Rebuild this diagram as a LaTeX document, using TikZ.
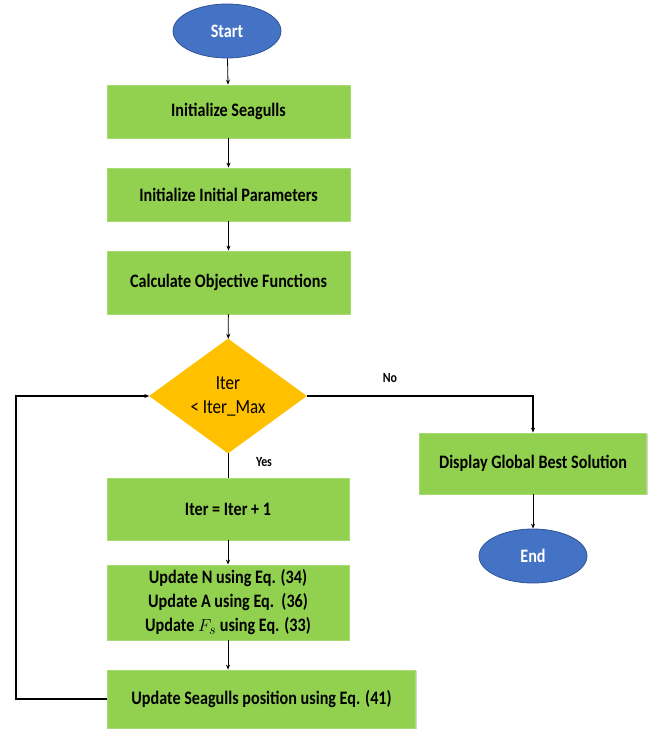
\documentclass[tikz,border=0pt]{standalone}
\usepackage{fontspec}
\setmainfont{Carlito}[FakeStretch=0.85]
\usetikzlibrary{shapes.geometric,arrows.meta,shadows}

\definecolor{boxgreen}{HTML}{92D050}
\definecolor{boxedge}{HTML}{A8DC72}
\definecolor{decgold}{HTML}{FFC000}
\definecolor{termblue}{HTML}{4472C4}
\definecolor{termedge}{HTML}{2F5597}

\tikzset{
  procbox/.style={rectangle, fill=boxgreen, draw=boxedge, line width=0.8pt,
    drop shadow={shadow xshift=1.2pt, shadow yshift=-1.2pt, opacity=0.35},
    inner sep=2pt, align=center, font=\fontsize{19}{24}\selectfont\bfseries},
  terminal/.style={ellipse, fill=termblue, draw=termedge, line width=0.8pt,
    minimum width=108pt, minimum height=54pt, inner sep=0pt,
    text=white, font=\fontsize{19}{22}\selectfont\bfseries},
  decision/.style={diamond, fill=decgold, draw=decgold, inner sep=0pt,
    minimum width=157pt, minimum height=106pt, align=center,
    font=\fontsize{20}{24}\selectfont},
  flowarrow/.style={-{Stealth[length=5pt,width=4pt]}, line width=0.8pt},
  heavyline/.style={line width=1.4pt},
  branchlabel/.style={font=\fontsize{14}{16}\selectfont\bfseries}
}

\begin{document}
\begin{tikzpicture}[x=1pt,y=-1pt]
\useasboundingbox (0,0) rectangle (652,731);

% main column
\node[terminal] (start) at (227,31) {Start};
\node[procbox, minimum width=243pt, minimum height=53pt] (init) at (228.5,111.5) {Initialize Seagulls};
\node[procbox, minimum width=243pt, minimum height=53pt] (params) at (228.5,194.5) {Initialize Initial Parameters};
\node[procbox, minimum width=243pt, minimum height=63pt] (calc) at (228.5,282.5) {Calculate Objective Functions};
\node[decision] (dec) at (228,396) {Iter\\< Iter\_Max};
\node[procbox, minimum width=242pt, minimum height=62pt] (iter) at (228,509) {Iter = Iter + 1};
\node[procbox, minimum width=242pt, minimum height=75pt] (upd) at (228,602.5)
  {Update N using Eq. (34)\\Update A using Eq.~~(36)\\Update $F_s$ using Eq. (33)};
\node[procbox, minimum width=308pt, minimum height=58pt] (pos) at (261.5,699) {Update Seagulls position using Eq. (41)};

% exit branch
\node[procbox, minimum width=227pt, minimum height=61pt] (disp) at (533,463.5) {Display Global Best Solution};
\node[terminal] (end) at (533,556) {End};

% connectors
\draw[flowarrow] (start) -- (init);
\draw[flowarrow] (init) -- (params);
\draw[flowarrow] (params) -- (calc);
\draw[flowarrow] (calc) -- (dec);
\draw[line width=0.8pt] (dec.south) -- (iter.north);
\draw[flowarrow] (iter) -- (upd);
\draw[flowarrow] (upd.south) -- (upd.south |- pos.north);
\draw[flowarrow, heavyline] (dec.east) -| (disp.north);
\draw[flowarrow] (disp) -- (end);

% loop back to the decision
\coordinate (loopturn) at (16,699);
\draw[flowarrow, heavyline] (pos.west) -- (loopturn) |- (dec.west);

% branch labels
\node[branchlabel] (nolabel) at (390,378) {No};
\node[branchlabel] (yeslabel) at (264,462) {Yes};
\end{tikzpicture}
\end{document}
